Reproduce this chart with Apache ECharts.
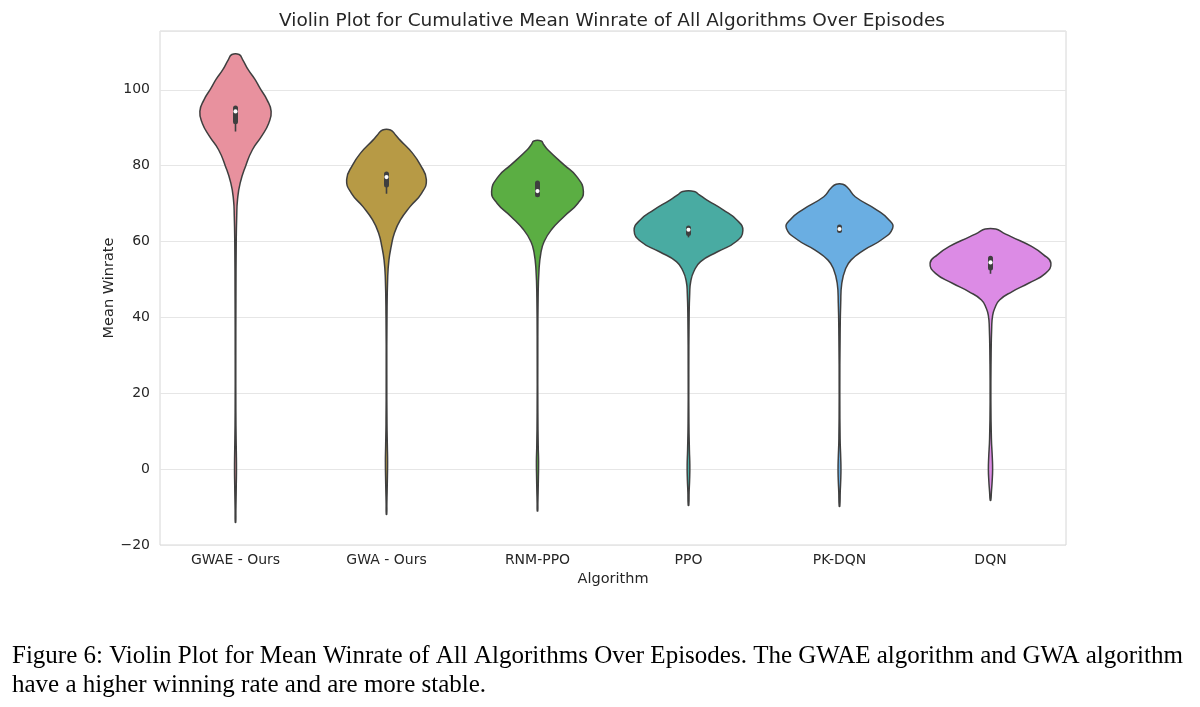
<!DOCTYPE html>
<html lang="en">
<head>
<meta charset="UTF-8">
<title>Violin Plot for Cumulative Mean Winrate</title>
<script src="https://cdn.jsdelivr.net/npm/echarts@6/dist/echarts.min.js"></script>
<style>
  html, body { margin: 0; padding: 0; background: #fff; }
  #chart { width: 1200px; height: 707px; }
</style>
</head>
<body>
<div id="chart"></div>
<script>
// categories on the x axis
var algorithms = ['GWAE - Ours', 'GWA - Ours', 'RNM-PPO', 'PPO', 'PK-DQN', 'DQN'];

// violin outlines: winrate levels (top -> bottom) and relative density at each level
var gwaeLevels  = [109.3, 107.9, 105.3, 102.8, 100.3, 97.4, 94.3, 91.2, 87.7, 84.2, 80.0, 75.4, 71.0, 66.6, 60, 45, 30, 15, 8, 4, 0, -4, -8, -11, -14];
var gwaeDensity = [0.06, 0.12, 0.21, 0.32, 0.41, 0.52, 0.59, 0.55, 0.43, 0.28, 0.17, 0.077, 0.033, 0.02, 0.012, 0.007, 0.005, 0.006, 0.01, 0.014, 0.016, 0.013, 0.009, 0.006, 0.004];

var gwaLevels  = [89.4, 88.1, 86.8, 83.3, 80.2, 76.3, 72.7, 69.2, 65.7, 62.2, 58.7, 55.1, 50.7, 40, 25, 12, 6, 2, -2, -6, -9, -11.9];
var gwaDensity = [0.066, 0.15, 0.22, 0.43, 0.56, 0.66, 0.58, 0.39, 0.23, 0.13, 0.078, 0.04, 0.02, 0.008, 0.005, 0.008, 0.014, 0.018, 0.015, 0.01, 0.006, 0.004];

var rnmLevels  = [86.5, 85.5, 84.2, 80.2, 77.1, 73.2, 70.1, 66.6, 63.1, 60.0, 56.9, 52.5, 45, 30, 15, 6, 2, -2, -6, -9, -11];
var rnmDensity = [0.06, 0.105, 0.17, 0.44, 0.65, 0.76, 0.67, 0.44, 0.23, 0.11, 0.055, 0.025, 0.01, 0.005, 0.006, 0.012, 0.018, 0.015, 0.01, 0.006, 0.004];

var ppoLevels  = [73.2, 72.3, 71.0, 68.3, 65.7, 62.9, 60.0, 57.3, 54.7, 52.1, 49.4, 46.4, 40, 25, 12, 5, 1, -3, -6, -9.5];
var ppoDensity = [0.096, 0.18, 0.30, 0.58, 0.80, 0.90, 0.79, 0.48, 0.20, 0.088, 0.036, 0.02, 0.01, 0.005, 0.007, 0.015, 0.022, 0.018, 0.01, 0.005];

var pkdqnLevels  = [75.1, 74.1, 71.8, 68.3, 65.7, 63.5, 60.4, 57.8, 55.1, 52.5, 49.0, 43.8, 35, 20, 8, 3, 0, -3, -6, -9.8];
var pkdqnDensity = [0.055, 0.14, 0.26, 0.62, 0.82, 0.88, 0.69, 0.41, 0.19, 0.094, 0.038, 0.02, 0.01, 0.005, 0.01, 0.02, 0.024, 0.02, 0.012, 0.005];

var dqnLevels  = [63.3, 62.3, 61.3, 58.7, 56.5, 54.3, 51.6, 49.0, 46.8, 44.6, 42.4, 40.2, 37.5, 30, 18, 8, 3, 0, -3, -6, -8.2];
var dqnDensity = [0.088, 0.21, 0.34, 0.68, 0.88, 1.0, 0.91, 0.63, 0.36, 0.15, 0.07, 0.033, 0.02, 0.01, 0.006, 0.015, 0.03, 0.035, 0.028, 0.015, 0.005];

// inner box statistics per algorithm
var whiskerLow  = [89.0, 72.6, 72.0, 61.1, 62.6, 51.5];
var quartile1   = [91.6, 74.9, 72.3, 62.1, 62.9, 53.0];
var medians     = [94.3, 77.0, 73.3, 63.1, 63.3, 54.5];
var quartile3   = [95.2, 77.8, 75.4, 63.6, 63.8, 55.6];
var whiskerHigh = [95.6, 78.2, 75.8, 63.8, 64.0, 55.9];

// y axis ticks
var yMin = -20, yMax = 115.5, yStep = 20;

var levelSets = [gwaeLevels, gwaLevels, rnmLevels, ppoLevels, pkdqnLevels, dqnLevels];
var densitySets = [gwaeDensity, gwaDensity, rnmDensity, ppoDensity, pkdqnDensity, dqnDensity];
var fills = ['#e8919e', '#b79a45', '#5bae43', '#49aba2', '#6aaee2', '#dc8be5'];
var edge = '#3f3f3f';

function renderViolin(params, api) {
    var i = api.value(0);
    var band = api.size([1, 0])[0];
    var cx = api.coord([i, 0])[0];
    var half = band * 0.4;
    var lv = levelSets[i], dn = densitySets[i];
    var right = [], left = [];
    for (var k = 0; k < lv.length; k++) {
        var y = api.coord([i, lv[k]])[1];
        right.push([cx + dn[k] * half, y]);
        left.unshift([cx - dn[k] * half, y]);
    }
    var yq1 = api.coord([i, quartile1[i]])[1];
    var yq3 = api.coord([i, quartile3[i]])[1];
    return {
        type: 'group',
        children: [
            {
                type: 'polygon',
                shape: { points: right.concat(left), smooth: 0.5 },
                style: { fill: fills[i], stroke: edge, lineWidth: 1.5 }
            },
            {
                type: 'line',
                shape: { x1: cx, y1: api.coord([i, whiskerLow[i]])[1], x2: cx, y2: api.coord([i, whiskerHigh[i]])[1] },
                style: { stroke: edge, lineWidth: 1.6 }
            },
            {
                type: 'line',
                shape: { x1: cx, y1: yq1, x2: cx, y2: yq3 },
                style: { stroke: edge, lineWidth: 5, lineCap: 'round' }
            },
            {
                type: 'circle',
                shape: { cx: cx, cy: api.coord([i, medians[i]])[1], r: 2.1 },
                style: { fill: '#ffffff' }
            }
        ]
    };
}

var chart = echarts.init(document.getElementById('chart'));
chart.setOption({
    animation: false,
    backgroundColor: '#ffffff',
    textStyle: { fontFamily: 'DejaVu Sans' },
    title: {
        text: 'Violin Plot for Cumulative Mean Winrate of All Algorithms Over Episodes',
        left: 607, top: 7, textAlign: 'center',
        textStyle: { fontFamily: 'DejaVu Sans', fontSize: 18.5, fontWeight: 'normal', color: '#262626' }
    },
    grid: {
        left: 160, right: 134, top: 31, bottom: 162,
        show: true, borderColor: '#d6d6d6', borderWidth: 1, backgroundColor: '#ffffff'
    },
    xAxis: {
        type: 'category',
        data: algorithms,
        boundaryGap: true,
        name: 'Algorithm',
        nameLocation: 'middle',
        nameGap: 26,
        nameTextStyle: { fontSize: 14.5, color: '#262626' },
        axisLine: { show: false },
        axisTick: { show: false },
        axisLabel: { fontSize: 14, color: '#262626', margin: 8 },
        splitLine: { show: false }
    },
    yAxis: {
        type: 'value',
        min: yMin, max: yMax, interval: yStep,
        name: 'Mean Winrate',
        nameLocation: 'middle',
        nameRotate: 90,
        nameGap: 43,
        nameMoveOverlap: false,
        nameTextStyle: { fontSize: 14.5, color: '#262626' },
        axisLine: { show: false },
        axisTick: { show: false },
        axisLabel: {
            fontSize: 14, color: '#262626', margin: 10, showMaxLabel: false,
            formatter: function (v) { return v < 0 ? '\u2212' + (-v) : String(v); }
        },
        splitLine: { lineStyle: { color: '#e6e6e6', width: 1 } }
    },
    graphic: [
        {
            type: 'text', left: 12, top: 644,
            style: {
                text: 'Figure 6: Violin Plot for Mean Winrate of All Algorithms Over Episodes. The GWAE algorithm and GWA algorithm',
                font: '25px "Liberation Serif"', fill: '#000000'
            }
        },
        {
            type: 'text', left: 12, top: 673,
            style: {
                text: 'have a higher winning rate and are more stable.',
                font: '25px "Liberation Serif"', fill: '#000000'
            }
        }
    ],
    series: [{
        type: 'custom',
        renderItem: renderViolin,
        encode: { x: 0, y: 1 },
        data: algorithms.map(function (a, i) { return [i, medians[i]]; }),
        clip: false
    }]
});
</script>
</body>
</html>
